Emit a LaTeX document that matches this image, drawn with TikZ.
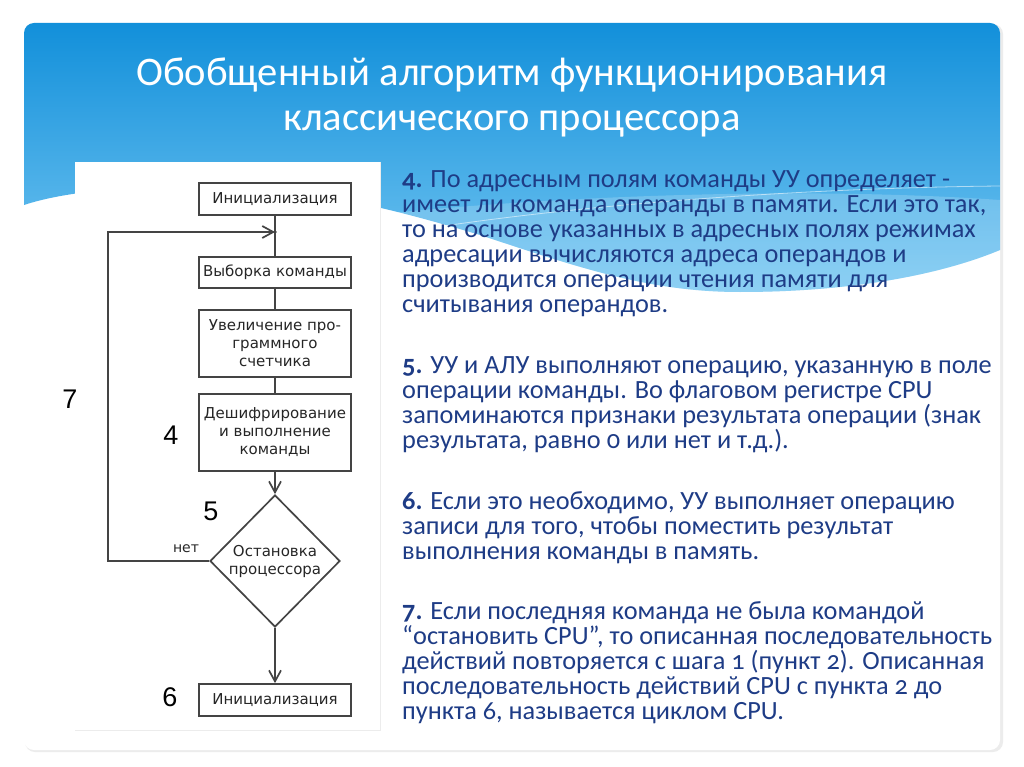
\documentclass[tikz,border=0pt]{standalone}
\usepackage{fontspec}
\setmainfont{Carlito}[Numbers=OldStyle]
\newfontfamily\titlefont{Carlito}
\newfontfamily\flowfont{DejaVu Sans}
\newfontfamily\numfont{Liberation Sans}
\usetikzlibrary{shapes.geometric,arrows.meta}
\definecolor{bluetop}{HTML}{0A8BD8}
\definecolor{bluebot}{HTML}{74C6F2}
\definecolor{navy}{HTML}{1E3C86}
\definecolor{linegray}{HTML}{444444}
\definecolor{flowtext}{HTML}{262626}
\definecolor{shadowgray}{HTML}{ECECEC}
\tikzset{
  fbox/.style={draw=linegray, line width=1.7pt, fill=white, minimum width=152pt,
    inner sep=0pt, align=center, text=flowtext, font=\flowfont\fontsize{15}{18}\selectfont},
  fdia/.style={fbox, shape=diamond, minimum width=130pt, minimum height=132pt},
  conn/.style={draw=linegray, line width=1.7pt},
  arr/.style={conn, -{Straight Barb[length=11pt,width=12pt]}},
  bodytext/.style={anchor=north west, inner sep=0pt, align=left, text=navy,
    font=\fontsize{26.3}{25}\selectfont},
  steplabel/.style={inner sep=0pt, text=black, font=\numfont\fontsize{27}{27}\selectfont},
  titletext/.style={inner sep=0pt, align=center, text=white,
    font=\titlefont\fontsize{40.6}{45}\selectfont}
}
\begin{document}
\begin{tikzpicture}[x=1pt,y=-1pt]
\useasboundingbox (0,0) rectangle (1024,767);
\fill[white] (0,0) rectangle (1024,767);
% slide card shadow
\fill[shadowgray, rounded corners=10pt] (25,24) rectangle (1003,752);
\fill[white, rounded corners=10pt] (24,23) rectangle (1000,750);
% blue header with wavy bottom
\begin{scope}
\clip[rounded corners=10pt] (24,23) rectangle (1000,750);
\shade[top color=bluetop, bottom color=bluebot]
  (24,0) -- (1000,0) -- (1000,250)
  .. controls (940,275) and (850,292) .. (740,292)
  .. controls (650,292) and (580,268) .. (480,235)
  .. controls (380,205) and (300,186) .. (200,186)
  .. controls (120,186) and (60,193) .. (24,205) -- cycle;
\fill[white, opacity=0.18]
  (380,214) .. controls (560,196) and (800,186) .. (1000,200) -- (1000,250)
  .. controls (940,275) and (850,292) .. (740,292)
  .. controls (650,292) and (580,268) .. (480,235)
  .. controls (440,223) and (410,217) .. (380,214) -- cycle;
\draw[white, opacity=0.55, line width=0.8pt]
  (380,236) .. controls (560,205) and (800,188) .. (1000,186);
\end{scope}
% title
\node[titletext, anchor=base] (t1) at (512,86) {Обобщенный алгоритм функционирования};
\node[titletext, anchor=base] (t2) at (512,131) {классического процессора};
% flowchart picture area
\fill[white] (75,162) rectangle (380,730);
\draw[shadowgray, line width=1pt] (380,162) -- (380,730) -- (75,730);
% flowchart
\node[fbox, minimum height=32pt] (init1) at (275,199) {Инициализация};
\node[fbox, minimum height=31pt] (fetch) at (275,272.5) {Выборка команды};
\node[fbox, minimum height=67pt] (incr) at (275,343.5) {Увеличение про-\\граммного\\счетчика};
\node[fbox, minimum height=77pt] (decode) at (275,432.5) {Дешифрирование\\и выполнение\\команды};
\node[fdia] (dia) at (275,561) {Остановка\\процессора};
\node[fbox, minimum height=32pt] (init2) at (275,700) {Инициализация};
\coordinate (j) at (275,232);
\coordinate (lb) at (108,561);
\coordinate (lt) at (108,232);
\draw[conn] (init1.south) -- (j) -- (fetch.north);
\draw[conn] (fetch.south) -- (incr.north);
\draw[conn] (incr.south) -- (decode.north);
\draw[arr] (decode.south) -- (dia.north);
\draw[arr] (dia.south) -- (init2.north);
\draw[arr] (dia.west) -- (lb) -- (lt) -- (j);
\fill[linegray] (j) circle (1.8pt);
\node[inner sep=0pt, text=flowtext, font=\flowfont\fontsize{14}{16}\selectfont] (net) at (186,549) {нет};
% step numbers
\node[steplabel] (n7) at (70,399) {7};
\node[steplabel] (n4) at (171,435) {4};
\node[steplabel] (n5) at (211,511) {5};
\node[steplabel] (n6) at (170,697) {6};
% body text
\node[bodytext] (p4) at (402,169) {\rule{0pt}{18pt}\textbf{4.} По адресным полям команды УУ определяет -\\
имеет ли команда операнды в памяти. Если это так,\\
то на основе указанных в адресных полях режимах\\
адресации вычисляются адреса операндов и\\
производится операции чтения памяти для\\
считывания операндов.};
\node[bodytext] (p5) at (402,355) {\rule{0pt}{18pt}\textbf{5.} УУ и АЛУ выполняют операцию, указанную в поле\\
операции команды. Во флаговом регистре CPU\\
запоминаются признаки результата операции (знак\\
результата, равно 0 или нет и т.д.).};
\node[bodytext] (p6) at (402,491) {\rule{0pt}{18pt}\textbf{6.} Если это необходимо, УУ выполняет операцию\\
записи для того, чтобы поместить результат\\
выполнения команды в память.};
\node[bodytext] (p7) at (402,601) {\rule{0pt}{18pt}\textbf{7.} Если последняя команда не была командой\\
“остановить CPU”, то описанная последовательность\\
действий повторяется с шага 1 (пункт 2). Описанная\\
последовательность действий CPU с пункта 2 до\\
пункта 6, называется циклом CPU.};
\end{tikzpicture}
\end{document}
